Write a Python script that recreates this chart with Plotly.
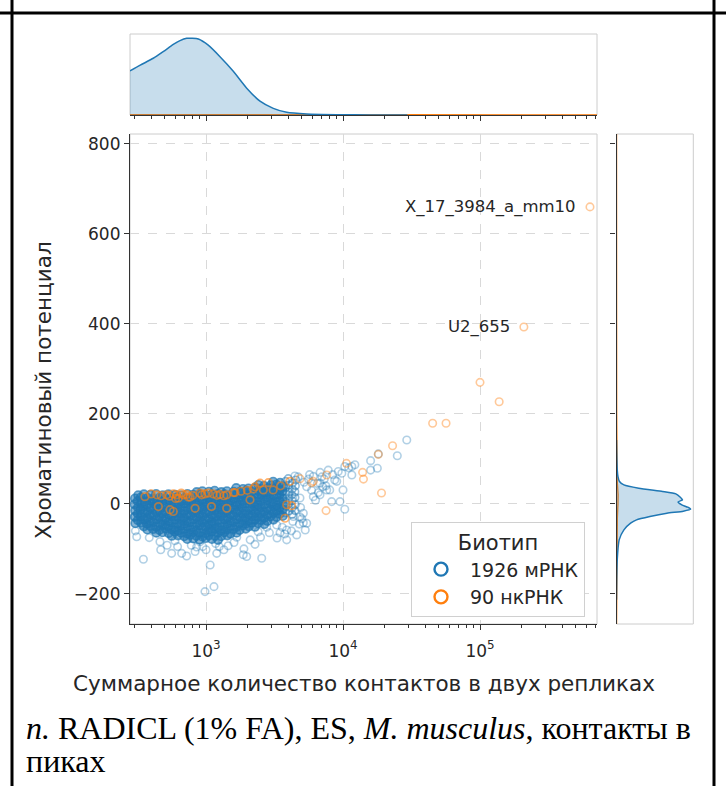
import math
import plotly.graph_objects as go

# ---------------- data ----------------
# dense core of the mRNA cloud (row by row, top to bottom)
mrna_core_contacts = [
    3980, 4520,
    3090, 3470, 3810, 4270,
    2410, 2650, 2970, 3260, 3650, 4010, 4490,
    1660, 1860, 2040, 2290, 2510, 2820, 3090, 3460, 3800, 4260,
    855, 940, 1050, 1155, 1295, 1420, 1590, 1750, 1960, 2150, 2410, 2650, 2960, 3280, 3620, 4040, 4450,
    320, 352, 393, 432, 483, 532, 595, 655, 732, 805, 900, 990, 1105, 1220, 1360, 1500, 1675, 1845, 2060, 2270, 2530, 2795, 3115, 3440, 3830, 4230,
    303, 334, 374, 410, 459, 505, 565, 620, 695, 765, 855, 940, 1050, 1160, 1290, 1425, 1590, 1755, 1955, 2160, 2405, 2655, 2945, 3280, 3625, 4030, 4460,
    317, 355, 390, 436, 480, 536, 590, 659, 727, 810, 894, 996, 1100, 1226, 1355, 1508, 1665, 1855, 2050, 2280, 2520, 2805, 3100, 3450, 3815, 4245,
    301, 336, 371, 414, 455, 509, 560, 626, 690, 770, 848, 947, 1045, 1165, 1285, 1432, 1580, 1762, 1945, 2168, 2395, 2666, 2955, 3268, 3640, 4020, 4475,
    319, 351, 392, 433, 482, 533, 593, 656, 731, 806, 898, 992, 1106, 1221, 1359, 1502, 1672, 1848, 2056, 2274, 2528, 2798, 3110, 3443, 3826, 4236,
    304, 333, 373, 411, 458, 506, 563, 623, 693, 768, 852, 943, 1049, 1159, 1291, 1427, 1588, 1756, 1952, 2161, 2402, 2659, 2948, 3276, 3628, 4031, 4462,
    318, 354, 390, 435, 481, 535, 591, 658, 728, 809, 895, 995, 1102, 1224, 1356, 1506, 1668, 1852, 2052, 2278, 2524, 2803, 3105, 3448, 3820, 4242,
    302, 335, 372, 413, 456, 508, 561, 625, 691, 767, 850, 945, 1046, 1162, 1287, 1430, 1584, 1759, 1949, 2164, 2398, 2662, 2950, 3272, 3632,
    318, 353, 391, 434, 481, 534, 592, 657, 729, 808, 896, 994, 1103, 1223, 1357, 1505, 1669, 1851, 2053, 2277, 2526, 2801, 3107,
    305, 336, 370, 412, 458, 506, 563, 622, 694, 766, 853, 942, 1048, 1160, 1289, 1428, 1586, 1757, 1951, 2162, 2400, 2660,
    352, 392, 433, 482, 533, 593, 656, 730, 807, 897, 993, 1104, 1222, 1358, 1504, 1670, 1850, 2054, 2276,
    373, 411, 457, 507, 562, 624, 692, 767, 851, 944, 1047, 1161, 1288, 1429, 1585, 1758, 1950,
    434, 481, 534, 592, 657, 729, 808, 896, 994, 1103, 1223, 1357, 1505, 1669,
    562, 624, 692, 767, 851, 944, 1047, 1161, 1288, 1429,
    729, 808, 896, 994, 1103, 1223,
]
mrna_core_potential = [
    56, 53,
    49, 47, 50, 46,
    42, 40, 41, 43, 39, 42, 40,
    35, 33, 34, 36, 33, 35, 34, 32, 36, 33,
    26, 28, 27, 29, 26, 28, 27, 26, 29, 27, 28, 26, 27, 29, 28, 26, 27,
    19, 21, 20, 22, 19, 21, 20, 19, 22, 20, 21, 19, 20, 22, 21, 19, 20, 21, 19, 22, 20, 21, 19, 20, 22, 20,
    12, 14, 13, 11, 14, 12, 13, 15, 12, 13, 14, 11, 13, 12, 14, 13, 12, 14, 13, 11, 14, 12, 13, 15, 12, 13, 14,
    6, 5, 7, 4, 6, 8, 5, 6, 7, 4, 6, 5, 8, 6, 5, 7, 4, 6, 7, 5, 6, 8, 5, 6, 4, 7,
    -1, 0, -2, 1, -1, 0, -3, -1, 1, -2, 0, -1, -2, 1, -1, 0, -2, -1, 1, 0, -2, -1, 0, -3, -1, 1, -2,
    -8, -7, -9, -6, -8, -10, -7, -8, -9, -6, -8, -7, -10, -8, -7, -9, -6, -8, -9, -7, -8, -10, -7, -8, -6, -9,
    -15, -14, -16, -13, -15, -17, -14, -15, -16, -13, -15, -14, -17, -15, -14, -16, -13, -15, -16, -14, -15, -17, -14, -15, -13, -16, -15,
    -22, -21, -23, -20, -22, -24, -21, -22, -23, -20, -22, -21, -24, -22, -21, -23, -20, -22, -23, -21, -22, -24, -21, -22, -20, -23,
    -29, -28, -30, -27, -29, -31, -28, -29, -30, -27, -29, -28, -31, -29, -28, -30, -27, -29, -30, -28, -29, -31, -28, -29, -27,
    -36, -35, -37, -34, -36, -38, -35, -36, -37, -34, -36, -35, -38, -36, -35, -37, -34, -36, -37, -35, -36, -38, -35,
    -43, -42, -44, -41, -43, -45, -42, -43, -44, -41, -43, -42, -45, -43, -42, -44, -41, -43, -44, -42, -43, -45,
    -50, -49, -51, -48, -50, -52, -49, -50, -51, -48, -50, -49, -52, -50, -49, -51, -48, -50, -51,
    -57, -56, -58, -55, -57, -59, -56, -57, -58, -55, -57, -56, -59, -57, -56, -58, -55,
    -64, -63, -65, -62, -64, -66, -63, -64, -65, -62, -64, -63, -66, -64,
    -71, -70, -72, -69, -71, -73, -70, -71, -72, -70,
    -78, -77, -79, -76, -78, -80,
]
# scattered mRNA points around the core
mrna_sparse_contacts = [
    302, 312, 339, 305, 349, 385, 461, 467, 520, 561, 593, 620, 664, 722, 780, 832, 855, 903,
    946, 982, 1000, 1072, 1143, 1175, 1197, 1250, 1350, 1450, 1600, 1675, 1870, 1890, 1980,
    2100, 2280, 2400, 2550, 2500, 2770, 2900, 3280, 3300, 3600, 3750, 3880, 3470, 4200, 4340,
    4590, 4800, 4850, 5130, 5130, 5300, 5430, 3880, 4300, 5000,
    4850, 4900, 5430, 5600, 5900, 6070, 6070, 6300, 6500, 6790, 6790, 6800, 7000, 7100, 7500,
    7600, 7800, 8000, 8260, 8400, 8700, 9000, 9230, 9500, 9800, 10000, 10300, 10300, 11000,
    11600, 11600, 12200, 15900, 15900, 17800, 18100, 24900, 29200, 5200, 5700, 4700, 4450,
    6600, 7300,
]
mrna_sparse_potential = [
    -28, -73, -47, -60, -123, -75, -84, -102, -92, -110, -82, -95, -110, -116, -92, -106, -96, -84,
    -95, -195, -102, -136, -184, -88, -110, -95, -102, -93, -86, -74, -113, -100, -117,
    -80, -90, -62, -121, -74, -52, -64, -47, -76, -52, -67, -80, -64, -60, -28,
    -69, -45, -29, -42, -21, -58, -43, -58, -39, -33,
    13, -8, 38, 55, 30, 16, 61, 8, 45, 20, 46, 70, 60, 38, 40,
    31, 75, 31, 5, 65, 53, 50, 72, 5, 68, 31, 83, -12, 80,
    83, 64, 87, 96, 75, 79, 111, 107, 142, 48, 65, 60, 62,
    25, 55,
]
# ncRNA points inside the main cloud
ncrna_cloud_contacts = [
    358, 398, 437, 449, 470, 516, 540, 546, 577, 577, 600, 611, 628, 660, 683, 720, 741, 764,
    800, 832, 903, 929, 980, 1040, 1096, 1130, 1200, 1264, 1350, 1416, 1416, 1585, 1626, 1800,
    2000, 2094, 2213, 2277, 2480, 2620, 2850, 3090, 3500, 3770, 3880, 4100, 4220,
]
ncrna_cloud_potential = [
    16, 22, 20, -6, 18, 20, 17, -13, 22, -17, 12, 20, 13, 24, 20, 21, 15, 15,
    19, -10, 24, 20, 22, 24, -6, 22, 19, 21, 18, 20, -10, 25, 25, 28,
    30, 9, 33, 38, 46, 31, 47, 31, 40, -32, -2, 50, -4,
]
# ncRNA points outside the main cloud
ncrna_outer_contacts = [
    4850, 5900, 6070, 7520, 7600, 10600, 13900, 14100, 18100, 19100, 23000, 45100, 56500,
    100000, 138000, 209000, 635000,
]
ncrna_outer_potential = [
    56, 47, 50, -15, 64, 90, 70, 55, 110, 24, 129, 179, 179,
    270, 227, 393, 660,
]
labeled_names = ["U2_655", "X_17_3984_a_mm10"]
labeled_contacts = [209000, 635000]
labeled_potential = [393, 660]

legend_names = ["1926 мРНК", "90 нкРНК"]
legend_title = "Биотип"

# marginal KDE curves (log10 contacts / potential vs. relative density)
mrna_top_kde_log10 = [2.445, 2.52, 2.615, 2.69, 2.761, 2.81, 2.859, 2.90, 2.944, 3.016, 3.102,
                      3.199, 3.297, 3.394, 3.491, 3.589, 3.735, 3.954, 4.2, 4.47]
mrna_top_kde_density = [0.574, 0.65, 0.74, 0.83, 0.92, 0.97, 1.0, 1.0, 0.99, 0.91, 0.76,
                        0.57, 0.35, 0.18, 0.087, 0.035, 0.013, 0.004, 0.001, 0.0]
ncrna_top_kde_log10 = [2.445, 3.0, 3.5, 4.0, 4.5, 5.0, 5.5, 5.854]
ncrna_top_kde_density = [0.003, 0.006, 0.005, 0.004, 0.003, 0.003, 0.002, 0.002]

mrna_right_kde_potential = [-213, -169, -124, -80, -57.8, -43, -35.6, -28.1, -20.7, -16.3, -11.9,
                            -7.4, -2.2, 4.4, 8.9, 14.8, 22.2, 27.4, 34.8, 42.2, 49.6, 60.7,
                            75.6, 113, 142]
mrna_right_kde_density = [0.0, 0.003, 0.01, 0.036, 0.10, 0.19, 0.27, 0.45, 0.68, 0.9, 1.0,
                          0.96, 0.88, 0.83, 0.89, 0.86, 0.8, 0.62, 0.3, 0.1, 0.04, 0.02,
                          0.01, 0.003, 0.0]
ncrna_right_kde_potential = [-267, -100, -30, 0, 20, 50, 100, 200, 400, 660, 822]
ncrna_right_kde_density = [0.001, 0.003, 0.012, 0.02, 0.022, 0.01, 0.005, 0.003, 0.002, 0.002, 0.001]

x_tick_values = [1000, 10000, 100000]
x_tick_labels = ["10<sup>3</sup>", "10<sup>4</sup>", "10<sup>5</sup>"]
y_tick_values = [-200, 0, 200, 400, 600, 800]
y_tick_labels = ["\u2212200", "0", "200", "400", "600", "800"]

x_title = "Суммарное количество контактов в двух репликах"
y_title = "Хроматиновый потенциал"
caption_line1 = "<i>n.</i> RADICL (1% FA), ES, <i>M. musculus</i>, контакты в"
caption_line2 = "пиках"

# ---------------- layout helpers ----------------
W, H = 726, 786


def fx(p):
    return p / W


def fy(p):
    return 1 - p / H


BLUE = "#1f77b4"
ORANGE = "#ff7f0e"
DARK = "#333333"
TXT = "#262626"
FONT = "DejaVu Sans"
X_RANGE = [2.445, 5.854]
Y_RANGE = [-267, 822]
CORE_EDGE = 3700  # core points right of this are drawn with the lighter (sparse) style

minor_x = [m * 10 ** e for e in (2, 3, 4, 5) for m in range(2, 10)
           if 10 ** X_RANGE[0] <= m * 10 ** e <= 10 ** X_RANGE[1]]

core_in = [(c, p) for c, p in zip(mrna_core_contacts, mrna_core_potential) if c < CORE_EDGE]
core_edge = [(c, p) for c, p in zip(mrna_core_contacts, mrna_core_potential) if c >= CORE_EDGE]

fig = go.Figure()

# top marginal
fig.add_trace(go.Scatter(x=[10 ** v for v in ncrna_top_kde_log10], y=ncrna_top_kde_density,
                         xaxis="x2", yaxis="y2", mode="lines", line=dict(color=ORANGE, width=1.3),
                         fill="tozeroy", fillcolor="rgba(255,127,14,0.25)", showlegend=False,
                         hoverinfo="skip"))
fig.add_trace(go.Scatter(x=[10 ** v for v in mrna_top_kde_log10], y=mrna_top_kde_density,
                         xaxis="x2", yaxis="y2", mode="lines",
                         line=dict(color=BLUE, width=1.5, shape="spline", smoothing=0.6),
                         fill="tozeroy", fillcolor="rgba(31,119,180,0.25)", showlegend=False,
                         hoverinfo="skip"))
# right marginal
fig.add_trace(go.Scatter(x=ncrna_right_kde_density, y=ncrna_right_kde_potential,
                         xaxis="x3", yaxis="y3", mode="lines", line=dict(color=ORANGE, width=1.3),
                         fill="tozerox", fillcolor="rgba(255,127,14,0.25)", showlegend=False,
                         hoverinfo="skip"))
fig.add_trace(go.Scatter(x=mrna_right_kde_density, y=mrna_right_kde_potential,
                         xaxis="x3", yaxis="y3", mode="lines",
                         line=dict(color=BLUE, width=1.5, shape="spline", smoothing=0.5),
                         fill="tozerox", fillcolor="rgba(31,119,180,0.25)", showlegend=False,
                         hoverinfo="skip"))

# main scatter
fig.add_trace(go.Scatter(x=[c for c, _ in core_in], y=[p for _, p in core_in], mode="markers",
                         marker=dict(symbol="circle", size=8.5, color="rgba(31,119,180,0.55)",
                                     line=dict(color="rgba(31,119,180,0.7)", width=1.6)),
                         showlegend=False, hoverinfo="skip"))
fig.add_trace(go.Scatter(x=[c for c, _ in core_edge], y=[p for _, p in core_edge], mode="markers",
                         marker=dict(symbol="circle-open", size=7.5,
                                     color="rgba(31,119,180,0.5)", line=dict(width=1.6)),
                         showlegend=False, hoverinfo="skip"))
fig.add_trace(go.Scatter(x=mrna_sparse_contacts, y=mrna_sparse_potential, mode="markers",
                         marker=dict(symbol="circle-open", size=7.5,
                                     color="rgba(31,119,180,0.35)", line=dict(width=1.6)),
                         showlegend=False, hoverinfo="skip"))
fig.add_trace(go.Scatter(x=ncrna_cloud_contacts, y=ncrna_cloud_potential, mode="markers",
                         marker=dict(symbol="circle-open", size=7.5,
                                     color="rgba(255,127,14,0.62)", line=dict(width=1.7)),
                         showlegend=False, hoverinfo="skip"))
fig.add_trace(go.Scatter(x=ncrna_outer_contacts, y=ncrna_outer_potential, mode="markers",
                         marker=dict(symbol="circle-open", size=7.5,
                                     color="rgba(255,127,14,0.42)", line=dict(width=1.6)),
                         showlegend=False, hoverinfo="skip"))
# legend entries
for name, col in zip(legend_names, [BLUE, ORANGE]):
    fig.add_trace(go.Scatter(x=[None], y=[None], mode="markers", name=name,
                             marker=dict(symbol="circle-open", size=13, color=col,
                                         line=dict(width=2.4))))

axis_common = dict(zeroline=False, tickcolor=DARK, tickfont=dict(size=17, color=TXT, family=FONT))

fig.update_layout(
    width=W, height=H,
    margin=dict(l=0, r=0, t=0, b=0),
    paper_bgcolor="white", plot_bgcolor="white",
    font=dict(family=FONT, color=TXT),
    xaxis=dict(domain=[fx(130), fx(597)], anchor="y", type="log", range=X_RANGE,
               tickmode="array", tickvals=x_tick_values, ticktext=x_tick_labels,
               ticks="outside", ticklen=5, tickwidth=1, ticklabelstandoff=6,
               showline=True, linecolor=DARK, linewidth=1.2,
               showgrid=True, gridcolor="#d9d9d9", griddash="dash", gridwidth=0.8,
               minor=dict(tickmode="array", tickvals=minor_x, ticks="outside", ticklen=3,
                          tickcolor=DARK, showgrid=False),
               **axis_common),
    yaxis=dict(domain=[fy(624), fy(134)], anchor="x", range=Y_RANGE,
               tickmode="array", tickvals=y_tick_values, ticktext=y_tick_labels,
               ticks="outside", ticklen=5, tickwidth=1,
               showline=True, linecolor=DARK, linewidth=1.2,
               showgrid=True, gridcolor="#d9d9d9", griddash="dash", gridwidth=0.8,
               **axis_common),
    xaxis2=dict(domain=[fx(130), fx(597)], anchor="y2", type="log", range=X_RANGE, matches="x",
                tickmode="array", tickvals=x_tick_values, showticklabels=False,
                ticks="outside", ticklen=5, showline=True, linecolor=DARK, linewidth=1.2,
                showgrid=False,
                minor=dict(tickmode="array", tickvals=minor_x, ticks="outside", ticklen=3,
                           tickcolor=DARK, showgrid=False),
                **axis_common),
    yaxis2=dict(domain=[fy(115), fy(34)], anchor="x2", range=[0, 1.056],
                showticklabels=False, showgrid=False, ticks="", showline=False, zeroline=False),
    xaxis3=dict(domain=[fx(616.5), fx(693.3)], anchor="y3", range=[0, 1.035],
                showticklabels=False, showgrid=False, ticks="", showline=False, zeroline=False),
    yaxis3=dict(domain=[fy(624), fy(134)], anchor="x3", range=Y_RANGE, matches="y",
                tickmode="array", tickvals=y_tick_values, showticklabels=False,
                ticks="outside", ticklen=5, showline=True, linecolor=DARK, linewidth=1.2,
                showgrid=False, **axis_common),
    legend=dict(x=fx(411), y=fy(522), xanchor="left", yanchor="top",
                bgcolor="white", bordercolor="#d0d0d0", borderwidth=1,
                font=dict(size=19, color=TXT, family=FONT),
                title=dict(text=legend_title, side="top center",
                           font=dict(size=21, color=TXT, family=FONT)),
                itemwidth=48),
    showlegend=True,
)

# light frames around the three panels
for xr, yr in (("x", "y"), ("x2", "y2"), ("x3", "y3")):
    fig.add_shape(type="rect", xref=f"{xr} domain", yref=f"{yr} domain",
                  x0=0, x1=1, y0=0, y1=1, line=dict(color="#cccccc", width=1), layer="below")

# table-cell borders
for x0, y0, x1, y1 in ((fx(12), 0, fx(12), 1), (fx(714), 0, fx(714), 1), (0, fy(13), 1, fy(13))):
    fig.add_shape(type="line", xref="paper", yref="paper", x0=x0, y0=y0, x1=x1, y1=y1,
                  line=dict(color="black", width=3), layer="above")

# point labels
for name, cx, cy in zip(labeled_names, labeled_contacts, labeled_potential):
    fig.add_annotation(x=math.log10(cx), y=cy, xref="x", yref="y", text=name, showarrow=False,
                       xanchor="right", yanchor="middle", xshift=-12,
                       font=dict(size=16.5, color=TXT, family=FONT))

# axis titles
fig.add_annotation(x=fx(364), y=fy(683), xref="paper", yref="paper", text=x_title,
                   showarrow=False, xanchor="center", yanchor="middle",
                   font=dict(size=21.5, color=TXT, family=FONT))
fig.add_annotation(x=fx(43), y=fy(390), xref="paper", yref="paper", text=y_title,
                   showarrow=False, xanchor="center", yanchor="middle", textangle=-90,
                   font=dict(size=21.5, color=TXT, family=FONT))
# caption (two lines placed separately to keep the tight line spacing of the reference)
fig.add_annotation(x=fx(24), y=fy(728), xref="paper", yref="paper", text=caption_line1,
                   showarrow=False, xanchor="left", yanchor="middle",
                   font=dict(size=32, color="black", family="Liberation Serif"))
fig.add_annotation(x=fx(24), y=fy(761), xref="paper", yref="paper", text=caption_line2,
                   showarrow=False, xanchor="left", yanchor="middle",
                   font=dict(size=32, color="black", family="Liberation Serif"))

fig.write_html("out.html")
